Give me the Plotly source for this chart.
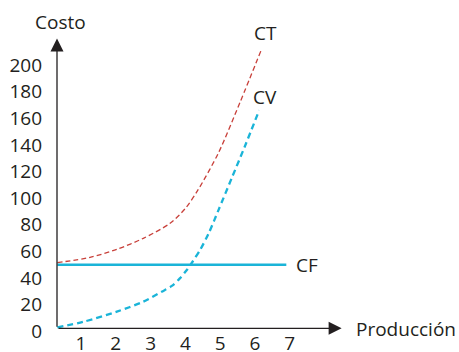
import plotly.graph_objects as go

# Data
ct_x = [0.32, 1.26, 2.03, 2.79, 3.56, 4.0, 4.37, 4.95, 5.57, 6.19]
ct_y = [51.5, 55.5, 61.5, 69.8, 81.1, 92.3, 106.5, 134, 172, 212]

cv_x = [0.32, 1.07, 2.03, 2.79, 3.32, 3.61, 3.84, 4.04, 4.2, 4.42, 4.66, 4.95, 5.33, 5.71, 6.12]
cv_y = [2.9, 7.1, 14.7, 22.2, 29.7, 34, 39.7, 46, 52, 61, 73, 91, 115, 139, 166]

cf_x = [0.32, 6.9]
cf_y = [50, 50]

x_ticks = [1, 2, 3, 4, 5, 6, 7]
y_ticks = [0, 20, 40, 60, 80, 100, 120, 140, 160, 180, 200]

INK = "#231f20"
RED = "#c8403a"
CYAN = "#1ab4d8"
FONT = "Open Sans"
FS = 19

fig = go.Figure()
fig.add_trace(go.Scatter(x=ct_x, y=ct_y, mode="lines",
                         line=dict(color=RED, width=1.3, dash="5px,3px", shape="spline", smoothing=0.8),
                         hoverinfo="skip"))
fig.add_trace(go.Scatter(x=cv_x, y=cv_y, mode="lines",
                         line=dict(color=CYAN, width=2.3, dash="6px,4px", shape="spline", smoothing=0.8),
                         hoverinfo="skip"))
fig.add_trace(go.Scatter(x=cf_x, y=cf_y, mode="lines", line=dict(color=CYAN, width=2.5), hoverinfo="skip"))

x0, x1 = 0.31, 8.5
y0, y1 = -2.1, 218.8
axis_y = 2.18

# axes with arrows
fig.add_annotation(x=x1 - 0.01, y=axis_y, ax=x0, ay=axis_y, xref="x", yref="y", axref="x", ayref="y",
                   text="", showarrow=True, arrowhead=2, arrowsize=2.0, arrowwidth=1.3, arrowcolor=INK,
                   standoff=0, startstandoff=0)
fig.add_annotation(x=x0, y=220, ax=x0, ay=axis_y, xref="x", yref="y", axref="x", ayref="y",
                   text="", showarrow=True, arrowhead=2, arrowsize=2.0, arrowwidth=1.3, arrowcolor=INK,
                   standoff=0, startstandoff=0)

# text labels (paper coordinates for those outside the plotting range)
paper_labels = [("Costo", 0.014, 1.062), ("CT", 0.730, 1.024), ("Producción", 1.2246, 0.017)]
for t, lx, ly in paper_labels:
    fig.add_annotation(x=lx, y=ly, xref="paper", yref="paper", text=t, showarrow=False,
                       font=dict(family=FONT, size=FS, color=INK), xanchor="center", yanchor="middle")
data_labels = [("CV", 6.29, 176), ("CF", 7.49, 50)]
for t, lx, ly in data_labels:
    fig.add_annotation(x=lx, y=ly, xref="x", yref="y", text=t, showarrow=False,
                       font=dict(family=FONT, size=FS, color=INK), xanchor="center", yanchor="middle")

fig.update_layout(
    width=459, height=352,
    margin=dict(l=57, r=117, t=40, b=18),
    paper_bgcolor="white", plot_bgcolor="white",
    showlegend=False,
    font=dict(family=FONT, size=FS, color=INK),
    xaxis=dict(range=[x0, x1], tickvals=x_ticks, showgrid=False, zeroline=False, showline=False,
               ticks="", tickfont=dict(family=FONT, size=FS, color=INK), automargin=False, fixedrange=True,
               anchor="free", position=0.0136),
    yaxis=dict(range=[y0, y1], tickvals=y_ticks, showgrid=False, zeroline=False, showline=False,
               ticks="", tickfont=dict(family=FONT, size=FS, color=INK), automargin=False, fixedrange=True,
               ticklabelstandoff=14),
)

fig.write_html("out.html", config={"displayModeBar": False},
               post_script="document.body.style.margin='0';document.body.style.overflow='hidden';")
